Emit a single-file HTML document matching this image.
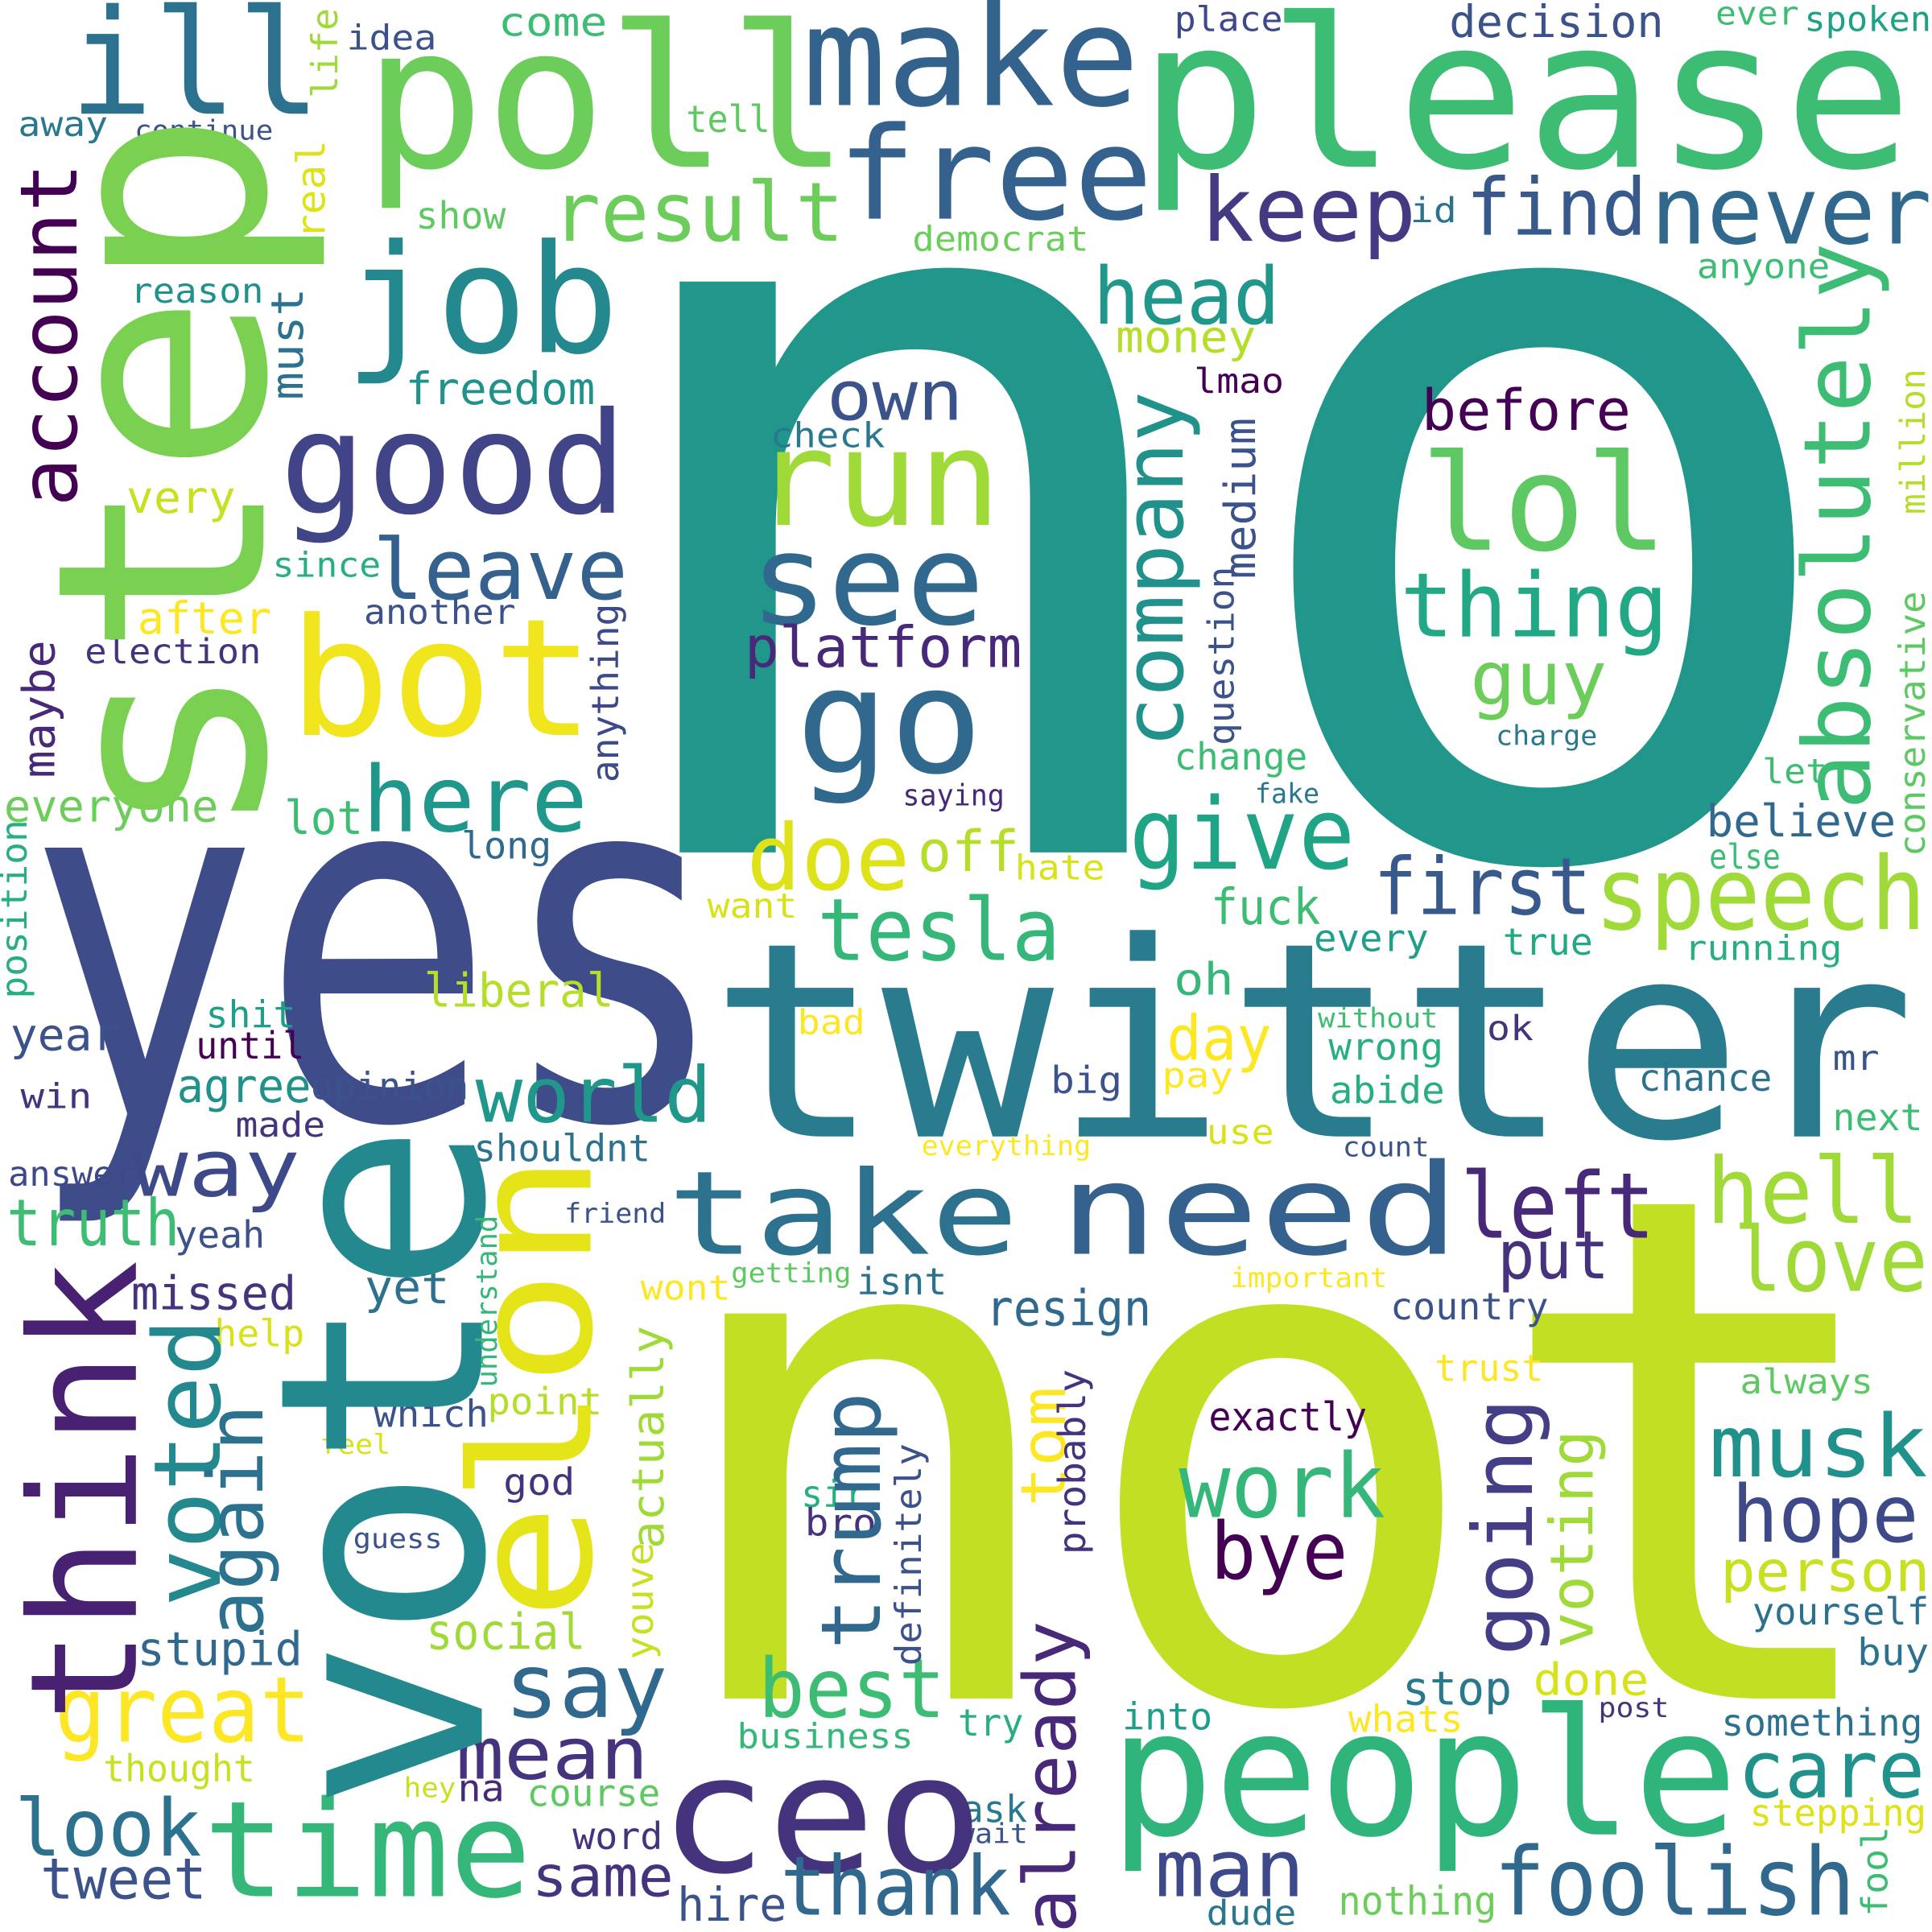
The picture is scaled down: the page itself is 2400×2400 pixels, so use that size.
<!DOCTYPE html>
<html><head><meta charset="utf-8"><title>Word cloud</title>
<style>
html,body{margin:0;padding:0;background:#fff;}
svg{display:block;}
text{font-family:"DejaVu Sans Mono","Liberation Mono",monospace;}
</style></head>
<body>
<svg id="cloud" width="2400" height="2400" viewBox="0 0 1564 1564" xmlns="http://www.w3.org/2000/svg">
<rect x="0" y="0" width="1564" height="1564" fill="#ffffff"/>
</svg>
<script>
// word, x (left / baseline for vertical), y (baseline / bottom for vertical), font size, ink length, color, orientation
var words = [
["no",510,690,845,958,"#21968b","h"],
["not",562,1375,570,950,"#c2df23","h"],
["yes",40,905,400,532,"#3e4c8a","h"],
["twitter",585,920,220,955,"#297b8e","h"],
["please",930,135,168,610,"#3dbc74","h"],
["poll",302,135,160,378,"#6ccd5a","h"],
["make",655,85,112,262,"#33628d","h"],
["free",683,177,104,245,"#34618d","h"],
["ill",62,92,118,192,"#2c728e","h"],
["job",285,285,122,210,"#23898e","h"],
["result",450,195,66,230,"#6ccd5a","h"],
["keep",975,195,72,168,"#443983","h"],
["id",1143,180,28,35,"#2c728e","h"],
["find",1190,190,64,140,"#38598c","h"],
["never",1340,197,76,220,"#31688e","h"],
["head",888,262,64,145,"#1f988b","h"],
["money",905,285,36,110,"#b5de2b","h"],
["own",672,340,56,105,"#3b528b","h"],
["lmao",968,318,28,70,"#440154","h"],
["check",625,362,28,90,"#2a788e","h"],
["run",615,425,108,190,"#a0da39","h"],
["before",1153,348,46,165,"#440154","h"],
["lol",1155,445,108,190,"#5ec962","h"],
["good",232,415,114,270,"#414487","h"],
["see",612,505,102,180,"#31688e","h"],
["leave",305,485,68,200,"#34618d","h"],
["thing",1137,515,72,210,"#22a884","h"],
["platform",605,540,46,220,"#482878","h"],
["guy",1193,570,60,105,"#6ccd5a","h"],
["charge",1212,603,22,80,"#2a788e","h"],
["bot",240,595,132,235,"#f1e51d","h"],
["go",650,625,118,140,"#31688e","h"],
["after",113,513,36,105,"#fde725","h"],
["since",222,467,28,85,"#29af7f","h"],
["very",104,415,36,85,"#c8e020","h"],
["another",296,505,28,120,"#3b528b","h"],
["election",70,537,28,140,"#46337e","h"],
["freedom",330,327,36,150,"#21918c","h"],
["come",405,29,32,85,"#3dbc74","h"],
["idea",282,40,28,70,"#3b528b","h"],
["place",952,25,28,85,"#3e4989","h"],
["decision",1175,30,36,170,"#3b528b","h"],
["ever",1390,20,26,65,"#3dbc74","h"],
["spoken",1462,25,28,100,"#1fa187","h"],
["away",16,110,28,70,"#2a788e","h"],
["continue",110,113,22,110,"#3b528b","h"],
["tell",557,107,30,65,"#5ec962","h"],
["show",338,185,30,70,"#5ec962","h"],
["democrat",740,203,28,140,"#6ccd5a","h"],
["anyone",1375,225,28,105,"#3dbc74","h"],
["reason",107,245,28,105,"#21918c","h"],
["here",297,673,74,175,"#1f988b","h"],
["lot",232,675,38,60,"#3dbc74","h"],
["everyone",5,665,36,170,"#6ccd5a","h"],
["long",375,695,30,70,"#31688e","h"],
["doe",608,720,74,125,"#dde318","h"],
["off",745,705,46,78,"#b5de2b","h"],
["hate",823,712,28,70,"#d8e219","h"],
["give",918,703,80,175,"#20a486","h"],
["saying",732,652,24,80,"#482878","h"],
["change",952,623,30,105,"#3dbc74","h"],
["fake",1017,650,22,50,"#2a788e","h"],
["let",1428,634,28,50,"#3dbc74","h"],
["believe",1383,677,36,150,"#31688e","h"],
["else",1385,703,28,55,"#3dbc74","h"],
["first",1115,740,64,170,"#38598c","h"],
["speech",1295,752,82,260,"#a0da39","h"],
["want",574,743,28,70,"#d8e219","h"],
["tesla",665,777,70,190,"#35b779","h"],
["fuck",982,748,40,85,"#3dbc74","h"],
["every",1065,770,30,90,"#1f9e89","h"],
["true",1218,773,30,70,"#22a884","h"],
["running",1365,777,28,125,"#29af7f","h"],
["oh",952,805,36,45,"#35b779","h"],
["liberal",345,815,38,150,"#b5de2b","h"],
["shit",168,832,30,70,"#1f9e89","h"],
["until",160,857,30,85,"#440154","h"],
["year",10,850,36,85,"#3b528b","h"],
["bad",647,837,28,52,"#fde725","h"],
["without",1068,832,22,95,"#3dbc74","h"],
["ok",1205,842,28,35,"#46337e","h"],
["day",947,858,50,80,"#fde725","h"],
["wrong",1077,858,30,90,"#29af7f","h"],
["mr",1485,866,28,35,"#3b528b","h"],
["agree",145,892,38,105,"#21918c","h"],
["opinion",253,890,30,125,"#3b528b","h"],
["win",18,897,28,55,"#46337e","h"],
["world",388,908,62,185,"#1f988b","h"],
["big",852,885,30,55,"#3b528b","h"],
["pay",942,880,28,55,"#fde725","h"],
["abide",1078,893,30,90,"#29af7f","h"],
["chance",1328,883,30,105,"#2c728e","h"],
["made",192,920,28,70,"#46337e","h"],
["shouldnt",385,940,30,140,"#2c728e","h"],
["everything",747,935,22,135,"#fde725","h"],
["use",978,926,28,52,"#d8e219","h"],
["count",1088,936,22,68,"#3b528b","h"],
["next",1485,915,30,70,"#3dbc74","h"],
["way",110,968,64,130,"#3e4989","h"],
["answer",8,960,28,100,"#3e4989","h"],
["take",545,1015,94,275,"#2c728e","h"],
["need",862,1015,102,315,"#34618d","h"],
["left",1186,1002,74,150,"#482878","h"],
["hell",1385,990,74,165,"#a0da39","h"],
["truth",8,1008,52,135,"#3dbc74","h"],
["yeah",143,1010,30,70,"#3b528b","h"],
["friend",458,990,22,80,"#3b528b","h"],
["put",1215,1035,54,85,"#46337e","h"],
["love",1407,1045,72,150,"#a0da39","h"],
["missed",108,1060,38,130,"#46337e","h"],
["yet",297,1055,38,65,"#2c728e","h"],
["wont",520,1052,28,70,"#fde725","h"],
["getting",593,1038,22,95,"#5ec962","h"],
["isnt",695,1048,30,70,"#2c728e","h"],
["important",997,1042,22,125,"#fde725","h"],
["country",1127,1068,30,125,"#3b528b","h"],
["resign",800,1073,40,130,"#31688e","h"],
["help",175,1090,30,70,"#d8e219","h"],
["trust",1163,1118,30,85,"#fde725","h"],
["always",1410,1128,28,105,"#5ec962","h"],
["which",304,1155,30,90,"#3b528b","h"],
["point",396,1145,30,90,"#b5de2b","h"],
["exactly",980,1158,32,125,"#440154","h"],
["feel",260,1177,22,55,"#d8e219","h"],
["musk",1387,1195,70,170,"#21918c","h"],
["work",958,1228,72,160,"#35b779","h"],
["god",409,1210,30,55,"#46337e","h"],
["sir",650,1220,30,50,"#29af7f","h"],
["bro",653,1243,30,55,"#46337e","h"],
["guess",287,1253,22,70,"#3b528b","h"],
["hope",1405,1248,64,145,"#3e4989","h"],
["bye",983,1278,64,105,"#440154","h"],
["person",1395,1288,46,165,"#c8e020","h"],
["yourself",1420,1315,30,140,"#2c728e","h"],
["stupid",113,1348,38,130,"#31688e","h"],
["social",347,1335,40,125,"#a0da39","h"],
["buy",1505,1348,30,55,"#2c728e","h"],
["say",412,1390,72,125,"#31688e","h"],
["best",617,1390,66,145,"#3dbc74","h"],
["stop",1137,1380,38,85,"#2a788e","h"],
["done",1243,1372,36,90,"#d8e219","h"],
["post",1295,1390,22,55,"#46337e","h"],
["great",48,1410,74,200,"#fde725","h"],
["try",777,1405,30,50,"#29af7f","h"],
["into",910,1400,30,70,"#1f9e89","h"],
["whats",1093,1402,30,90,"#fde725","h"],
["something",1395,1405,30,160,"#2c728e","h"],
["business",598,1415,28,140,"#35b779","h"],
["mean",372,1440,58,150,"#46337e","h"],
["thought",85,1442,30,120,"#c8e020","h"],
["care",1410,1455,64,145,"#21918c","h"],
["hey",328,1455,22,40,"#c8e020","h"],
["na",372,1458,30,35,"#482878","h"],
["course",428,1462,30,105,"#5ec962","h"],
["stepping",1418,1478,30,140,"#dde318","h"],
["ask",780,1475,30,50,"#2a788e","h"],
["wait",776,1492,22,55,"#3b528b","h"],
["ceo",540,1515,132,250,"#46337e","h"],
["people",905,1485,142,495,"#2fb47c","h"],
["look",15,1502,64,145,"#2c728e","h"],
["time",170,1535,108,255,"#35b779","h"],
["word",465,1497,30,70,"#46337e","h"],
["man",938,1535,64,115,"#3e4989","h"],
["tweet",35,1537,46,130,"#3b528b","h"],
["same",433,1535,46,110,"#46337e","h"],
["thank",635,1550,66,180,"#31688e","h"],
["hire",550,1555,38,85,"#3b528b","h"],
["nothing",1085,1550,32,125,"#6ccd5a","h"],
["dude",978,1558,28,70,"#2a788e","h"],
["foolish",1213,1550,76,285,"#31688e","h"],
["step",265,670,235,570,"#7ad151","v"],
["vote",390,1455,230,535,"#23898e","v"],
["elon",478,1305,135,365,"#e5e419","v"],
["think",110,1388,120,362,"#482173","v"],
["voted",178,1297,75,226,"#23898e","v"],
["again",226,1322,62,182,"#2c728e","v"],
["account",62,407,64,272,"#440154","v"],
["company",972,602,67,282,"#21918c","v"],
["absolutely",1530,652,75,452,"#3dbc74","v"],
["trump",727,1332,67,202,"#31688e","v"],
["going",1255,1337,67,202,"#433e85","v"],
["already",883,1562,58,247,"#482878","v"],
["voting",1300,1332,48,172,"#a0da39","v"],
["tom",862,1217,50,92,"#fde725","v"],
["probably",885,1257,30,147,"#46337e","v"],
["definitely",752,1347,29,177,"#3b528b","v"],
["actually",545,1252,36,177,"#a0da39","v"],
["youve",535,1342,30,92,"#c8e020","v"],
["anything",507,632,30,142,"#3e4989","v"],
["maybe",52,628,36,108,"#482878","v"],
["position",28,807,29,142,"#29af7f","v"],
["must",245,322,36,87,"#2c728e","v"],
["real",263,192,32,77,"#dde318","v"],
["life",273,78,29,70,"#a0da39","v"],
["medium",1016,467,35,127,"#3b528b","v"],
["question",1005,602,29,142,"#3b528b","v"],
["million",1558,415,28,115,"#b5de2b","v"],
["conservative",1558,692,29,212,"#5ec962","v"],
["understand",402,1122,23,137,"#35b779","v"],
["fool",1528,1550,29,70,"#3dbc74","v"]
];

var svg = document.getElementById('cloud');
var NS = 'http://www.w3.org/2000/svg';
words.forEach(function (w) {
  var t = document.createElementNS(NS, 'text');
  
  
  var fs = w[3];
  var pad = 0.05 * fs;
  t.setAttribute('font-size', fs);
  t.setAttribute('fill', w[5]);
  t.setAttribute('textLength', w[4] + 2 * pad);
  t.setAttribute('lengthAdjust', 'spacingAndGlyphs');
  if (w[6] === 'h') {
    t.setAttribute('x', w[1] - pad);
    t.setAttribute('y', w[2]);
  } else {
    var bx = w[1] - (/[gjpqy]/.test(w[0]) ? 0.22 * fs : 0);
    var by = w[2] + pad;
    t.setAttribute('x', bx);
    t.setAttribute('y', by);
    t.setAttribute('transform', 'rotate(-90 ' + bx + ' ' + by + ')');
  }
  t.textContent = w[0];
  svg.appendChild(t);
});
</script>
</body></html>
